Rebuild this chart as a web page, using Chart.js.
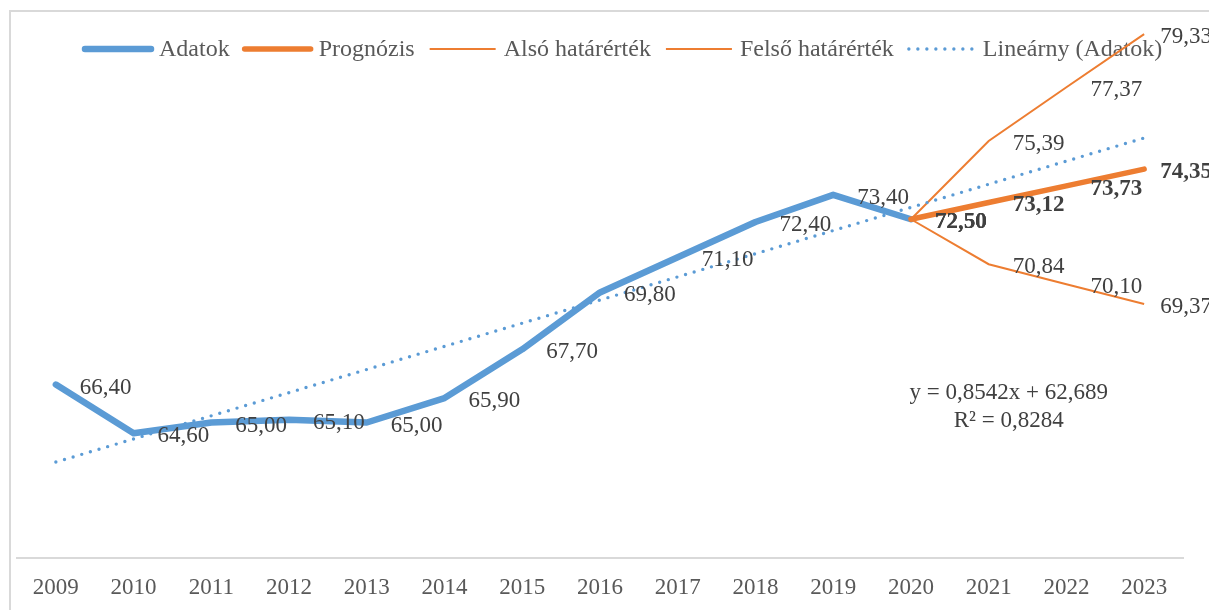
<!DOCTYPE html>
<html>
<head>
<meta charset="utf-8">
<script src="https://cdn.jsdelivr.net/npm/chart.js@4.4.0/dist/chart.umd.min.js"></script>
<style>
  html, body { margin: 0; padding: 0; background: #fff; }
</style>
</head>
<body>
<canvas id="myChart" width="1209" height="610"></canvas>
<script>
var years = ['2009', '2010', '2011', '2012', '2013', '2014', '2015', '2016',
             '2017', '2018', '2019', '2020', '2021', '2022', '2023'];
var adatok    = [66.40, 64.60, 65.00, 65.10, 65.00, 65.90, 67.70, 69.80, 71.10, 72.40, 73.40, 72.50, null, null, null];
var prognozis = [null, null, null, null, null, null, null, null, null, null, null, 72.50, 73.12, 73.73, 74.35];
var also      = [null, null, null, null, null, null, null, null, null, null, null, 72.50, 70.84, 70.10, 69.37];
var felso     = [null, null, null, null, null, null, null, null, null, null, null, 72.50, 75.39, 77.37, 79.33];
// trend line: only its two ends
var trend     = [63.54, null, null, null, null, null, null, null, null, null, null, null, null, null, 75.50];
var trendText = ['y = 0,8542x + 62,689', 'R\u00B2 = 0,8284'];

var SERIF = '"Liberation Serif", "Times New Roman", serif';
var BLUE = '#5b9bd5';
var ORANGE = '#ed7d31';

function fmt(v) {
  return v.toFixed(2).replace('.', ',');
}

// light grey outer border of the chart object (cut off at right and bottom)
var frame = {
  id: 'frame',
  beforeDraw: function (chart) {
    var c = chart.ctx;
    c.save();
    c.fillStyle = '#fff';
    c.fillRect(0, 0, chart.width, chart.height);
    c.strokeStyle = '#d9d9d9';
    c.lineWidth = 2;
    c.strokeRect(10, 11, chart.width + 40, chart.height + 40);
    c.restore();
  }
};

// legend inside the plot, lines drawn with each dataset's own style
var lineLegend = {
  id: 'lineLegend',
  beforeDatasetsDraw: function (chart) {
    var c = chart.ctx;
    var x = 82, y = 49;
    c.save();
    c.font = '24px ' + SERIF;
    c.textBaseline = 'middle';
    chart.data.datasets.forEach(function (ds) {
      c.strokeStyle = ds.borderColor;
      c.lineWidth = ds.borderWidth;
      c.lineCap = ds.borderCapStyle || 'butt';
      c.setLineDash(ds.borderDash || []);
      c.beginPath();
      c.moveTo(x + 3, y);
      c.lineTo(x + 69, y);
      c.stroke();
      c.setLineDash([]);
      c.fillStyle = '#595959';
      c.fillText(ds.label, x + 77, y + 1);
      x += 77 + c.measureText(ds.label).width + 12;
    });
    c.restore();
  }
};

// value labels to the right of each point, bold ones last
var valueLabels = {
  id: 'valueLabels',
  afterDatasetsDraw: function (chart) {
    var c = chart.ctx;
    var last = years.length - 1;
    c.save();
    c.textAlign = 'left';
    c.textBaseline = 'middle';
    c.fillStyle = '#404040';
    [false, true].forEach(function (bold) {
      chart.data.datasets.forEach(function (ds, i) {
        if (!ds.showValues || !!ds.boldValues !== bold) return;
        c.font = (bold ? 'bold ' : '') + '23px ' + SERIF;
        chart.getDatasetMeta(i).data.forEach(function (pt, j) {
          var v = ds.data[j];
          if (v == null) return;
          c.fillText(fmt(v), pt.x + (j === last ? 16 : 24), pt.y + 3);
        });
      });
    });

    // trend line equation
    var xs = chart.scales.x, ys = chart.scales.y;
    var cx = xs.getPixelForValue(12) + 20;
    var cy = ys.getPixelForValue(66.1);
    c.font = '23px ' + SERIF;
    c.textAlign = 'center';
    c.fillText(trendText[0], cx, cy);
    c.fillText(trendText[1], cx, cy + 28);
    c.restore();
  }
};

var ctx = document.getElementById('myChart').getContext('2d');
var myChart = new Chart(ctx, {
  type: 'line',
  data: {
    labels: years,
    datasets: [{
      label: 'Adatok',
      data: adatok,
      borderColor: BLUE,
      borderWidth: 6.5,
      borderCapStyle: 'round',
      borderJoinStyle: 'round',
      showValues: true,
      order: 5
    }, {
      label: 'Prognózis',
      data: prognozis,
      borderColor: ORANGE,
      borderWidth: 5.5,
      borderCapStyle: 'round',
      borderJoinStyle: 'round',
      showValues: true,
      boldValues: true,
      order: 2
    }, {
      label: 'Alsó határérték',
      data: also,
      borderColor: ORANGE,
      borderWidth: 2,
      showValues: true,
      order: 4
    }, {
      label: 'Felső határérték',
      data: felso,
      borderColor: ORANGE,
      borderWidth: 2,
      showValues: true,
      order: 3
    }, {
      label: 'Lineárny (Adatok)',
      data: trend,
      borderColor: BLUE,
      borderWidth: 3.4,
      borderDash: [0, 9],
      borderCapStyle: 'round',
      spanGaps: true,
      order: 1
    }]
  },
  options: {
    responsive: false,
    animation: false,
    elements: {
      point: { radius: 0, hoverRadius: 0 },
      line: { tension: 0, fill: false }
    },
    layout: {
      padding: { left: 17, right: 26, top: 16, bottom: 0 }
    },
    plugins: {
      legend: { display: false },
      tooltip: { enabled: false }
    },
    scales: {
      x: {
        offset: true,
        grid: { display: false, drawTicks: false },
        border: { display: true, color: '#d9d9d9', width: 2 },
        ticks: {
          color: '#595959',
          font: { family: SERIF, size: 23 },
          padding: 16,
          maxRotation: 0,
          autoSkip: false
        },
        afterFit: function (scale) {
          scale.height = 52;
        }
      },
      y: {
        display: false,
        min: 60,
        max: 80
      }
    }
  },
  plugins: [frame, lineLegend, valueLabels]
});
</script>
</body>
</html>
